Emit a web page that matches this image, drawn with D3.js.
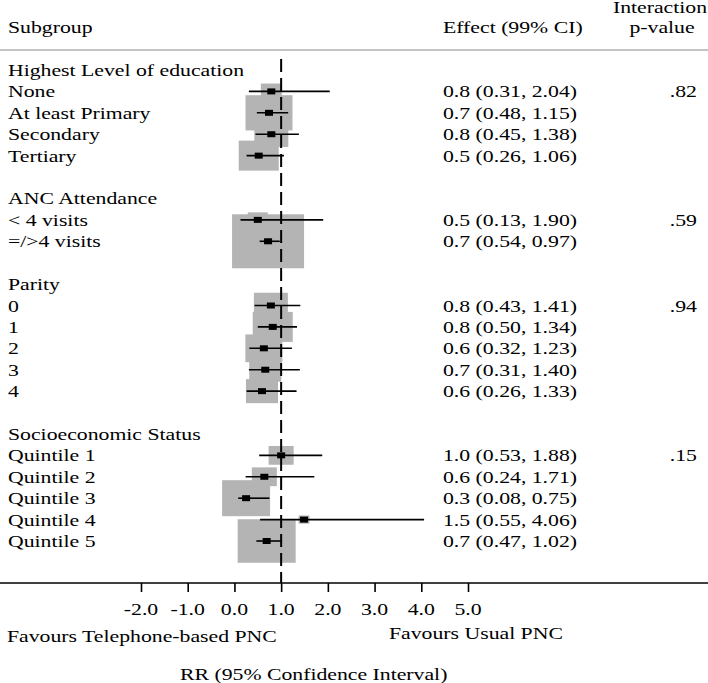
<!DOCTYPE html>
<html>
<head>
<meta charset="utf-8">
<script src="https://cdn.jsdelivr.net/npm/d3@7"></script>
<style>
html,body{margin:0;padding:0;background:#fff;}
svg{display:block;}
text{font-family:"Liberation Serif","Times New Roman",serif;font-size:16px;fill:#000;}
</style>
</head>
<body>
<svg id="chart" width="708" height="683"></svg>
<script>
// ---------- data ----------
const groupNames = ["Highest Level of education", "ANC Attendance", "Parity", "Socioeconomic Status"];
const subgroupNames = ["None", "At least Primary", "Secondary", "Tertiary",
  "< 4 visits", "=/>4 visits",
  "0", "1", "2", "3", "4",
  "Quintile 1", "Quintile 2", "Quintile 3", "Quintile 4", "Quintile 5"];
const subgroupGroup = [0, 0, 0, 0, 1, 1, 2, 2, 2, 2, 2, 3, 3, 3, 3, 3];
const estimates = [0.79, 0.74, 0.79, 0.52, 0.50, 0.72, 0.78, 0.82, 0.63, 0.66, 0.59, 1.00, 0.64, 0.25, 1.49, 0.69];
const lowerCI   = [0.31, 0.48, 0.45, 0.26, 0.13, 0.54, 0.43, 0.50, 0.32, 0.31, 0.26, 0.53, 0.24, 0.08, 0.55, 0.47];
const upperCI   = [2.04, 1.15, 1.38, 1.06, 1.90, 0.97, 1.41, 1.34, 1.23, 1.40, 1.33, 1.88, 1.71, 0.75, 4.06, 1.02];
const weights   = [8.5, 42.6, 22.3, 30.9, 7.7, 100, 22.3, 30.9, 26.4, 19.8, 19.8, 12.1, 12.1, 44.4, 2.3, 64.9];
const effectLabels = ["0.8 (0.31, 2.04)", "0.7 (0.48, 1.15)", "0.8 (0.45, 1.38)", "0.5 (0.26, 1.06)",
  "0.5 (0.13, 1.90)", "0.7 (0.54, 0.97)",
  "0.8 (0.43, 1.41)", "0.8 (0.50, 1.34)", "0.6 (0.32, 1.23)", "0.7 (0.31, 1.40)", "0.6 (0.26, 1.33)",
  "1.0 (0.53, 1.88)", "0.6 (0.24, 1.71)", "0.3 (0.08, 0.75)", "1.5 (0.55, 4.06)", "0.7 (0.47, 1.02)"];
const pValues = [".82", ".59", ".94", ".15"];
const xTicks = [-2, -1, 0, 1, 2, 3, 4, 5];
const nullValue = 1;

// ---------- layout ----------
const SX = 1.36; // horizontal text stretch of the original graph
const svg = d3.select("#chart");
const W = 708, H = 683;

// build row list
const rows = [];
groupNames.forEach((g, gi) => {
  rows.push({type: "group", label: g, gi});
  subgroupNames.forEach((s, i) => {
    if (subgroupGroup[i] === gi) rows.push({type: "item", label: s, i, gi});
  });
  if (gi < groupNames.length - 1) rows.push({type: "blank"});
});
rows.forEach((r, k) => r.k = k);

const x = d3.scaleLinear().domain([-2, 5]).range([141, 468]);
const y = d3.scaleLinear().domain([0, rows.length - 1]).range([70, 541]);
const box = d3.scaleSqrt().domain([0, 100]).range([0, 72]);
const axisY = 583;

function txt(px, py, s, anchor) {
  return svg.append("text")
    .attr("transform", `translate(${px},${py}) scale(${SX},1)`)
    .attr("text-anchor", anchor || "start")
    .text(s);
}

// header
txt(8, 33, "Subgroup");
txt(443, 33, "Effect (99% CI)");
txt(660, 13, "Interaction", "middle");
txt(662, 33, "p-value", "middle");
svg.append("line").attr("x1", 0).attr("x2", W).attr("y1", 50).attr("y2", 50)
  .attr("stroke", "#c4c4c4").attr("stroke-width", 2.2);

const items = rows.filter(r => r.type === "item");

// weight boxes
svg.append("g").selectAll("rect").data(items).join("rect")
  .attr("x", d => x(estimates[d.i]) - box(weights[d.i]) / 2)
  .attr("y", d => y(d.k) - box(weights[d.i]) * 0.75 / 2)
  .attr("width", d => box(weights[d.i]))
  .attr("height", d => box(weights[d.i]) * 0.75)
  .attr("fill", "#b4b4b4");

// null line
svg.append("line")
  .attr("x1", x(nullValue)).attr("x2", x(nullValue))
  .attr("y1", 59).attr("y2", axisY)
  .attr("stroke", "#000").attr("stroke-width", 2)
  .attr("stroke-dasharray", "13,6");

// CI lines
svg.append("g").selectAll("line").data(items).join("line")
  .attr("x1", d => x(lowerCI[d.i])).attr("x2", d => x(upperCI[d.i]))
  .attr("y1", d => y(d.k)).attr("y2", d => y(d.k))
  .attr("stroke", "#000").attr("stroke-width", 1.6);

// point squares
svg.append("g").selectAll("rect").data(items).join("rect")
  .attr("x", d => x(estimates[d.i]) - 4)
  .attr("y", d => y(d.k) - 3)
  .attr("width", 8).attr("height", 6)
  .attr("fill", "#000");

// row texts
rows.forEach(r => {
  if (r.type === "blank") return;
  txt(8, y(r.k) + 6, r.label);
  if (r.type === "item") {
    txt(443, y(r.k) + 6, effectLabels[r.i]);
    const firstOfGroup = subgroupGroup.indexOf(r.gi) === r.i;
    if (firstOfGroup) txt(697, y(r.k) + 6, pValues[r.gi], "end");
  }
});

// axis
const axis = d3.axisBottom(x).tickValues(xTicks).tickSize(9).tickPadding(0)
  .tickFormat(d3.format(".1f"));
const gAx = svg.append("g").attr("transform", `translate(0,${axisY})`).call(axis);
gAx.select(".domain").remove();
gAx.selectAll(".tick line").attr("stroke", "#000").attr("stroke-width", 1.6);
gAx.selectAll(".tick text").remove();
xTicks.forEach(t => txt(x(t), 615, d3.format(".1f")(t).replace("\u2212", "-"), "middle"));
svg.append("line").attr("x1", 0).attr("x2", W).attr("y1", axisY).attr("y2", axisY)
  .attr("stroke", "#000").attr("stroke-width", 1.6);

txt(7, 642, "Favours Telephone-based PNC");
txt(389, 639, "Favours Usual PNC");
txt(180, 680, "RR (95% Confidence Interval)");
</script>
</body>
</html>
